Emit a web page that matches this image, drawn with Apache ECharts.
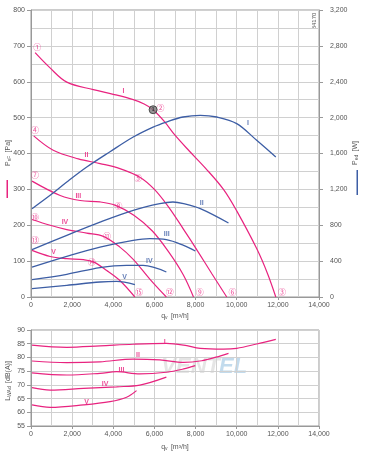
<!DOCTYPE html>
<html><head><meta charset="utf-8">
<script src="https://cdn.jsdelivr.net/npm/echarts@6/dist/echarts.min.js"></script>
<style>html,body{margin:0;padding:0;background:#fff}#c{width:368px;height:454px}</style>
</head><body><div id="c"></div>
<script>
// ---- Data (q in m³/h, pressure in Pa, power in W, sound in dB(A)) ----
const pressureI   = [[200,681],[900,640],[1740,599],[3030,578],[4000,565],[4970,550],[5500,538],[5935,522],[6500,488],[7000,451],[7660,409],[8500,358],[9356,300],[10000,240],[10970,135],[11500,65],[11900,0]];
const pressureII  = [[130,449],[1080,409],[2300,385],[3355,372],[4320,358],[5290,334],[6000,300],[6700,250],[7400,190],[8100,128],[8800,64],[9515,0]];
const pressureIII = [[50,323],[1420,283],[2390,269],[3355,265],[4080,256],[5000,228],[5900,184],[6700,125],[7400,62],[7900,0]];
const pressureIV  = [[50,216],[930,200],[1740,188],[2710,178],[3515,169],[4320,139],[4970,105],[5775,50],[6580,0]];
const pressureV   = [[50,130],[930,113],[1740,107],[2550,104],[3030,98],[3680,74],[4320,46],[5050,0]];

const powerI   = [[50,985],[930,1134],[1740,1282],[2710,1449],[3840,1620],[4970,1784],[5935,1895],[6580,1951],[7390,2007],[8230,2026],[9030,2007],[10000,1933],[10970,1747],[11900,1561]];
const powerII  = [[50,528],[1740,688],[3355,836],[4970,967],[6260,1041],[6900,1059],[7420,1041],[8230,985],[9600,825]];
const powerIII = [[50,334],[1740,454],[3355,557],[4970,632],[5775,651],[6580,640],[7420,576],[7985,513]];
const powerIV  = [[50,194],[1740,253],[3355,328],[4645,353],[5450,353],[6580,279]];
const powerV   = [[50,94],[1740,130],[3355,167],[4160,174],[5050,138]];

const soundI   = [[50,84.5],[1740,83.7],[3355,84.2],[4970,84.8],[6580,85.1],[7420,84.5],[8230,83.3],[9356,83.0],[10000,83.3],[10970,84.9],[11900,86.6]];
const soundII  = [[50,78.7],[1740,78.1],[3355,78.4],[4970,79.4],[6260,79.1],[7420,78.2],[8300,78.8],[9000,80.1],[9600,81.5]];
const soundIII = [[50,74.4],[1740,73.6],[3355,74.2],[4160,74.8],[5290,74.0],[6580,74.6],[7420,75.8],[7985,77.0]];
const soundIV  = [[50,69.0],[930,68.1],[2550,68.7],[4160,69.3],[5290,69.9],[6580,72.8]];
const soundV   = [[50,62.7],[930,61.8],[2550,62.7],[3840,63.9],[4645,65.5],[5130,67.9]];

// label anchors [q, value, text]
const pressureLabels = [[4500,575,'I'],[2700,395,'II'],[2300,280,'III'],[1650,208,'IV'],[1100,125,'V']];
const powerLabels = [[10550,1935,'I'],[8300,1050,'II'],[6600,706,'III'],[5750,400,'IV'],[4550,222,'V']];
const soundLabels = [[6500,85.7,'I'],[5200,80.7,'II'],[4400,75.5,'III'],[3600,70.2,'IV'],[2700,63.8,'V']];
const pointMarks = [[300,698,'①'],[6300,527,'②'],[12200,14,'③'],[200,466,'④'],[5200,333,'⑤'],[9800,14,'⑥'],[200,339,'⑦'],[4250,253,'⑧'],[8200,14,'⑨'],[200,224,'⑩'],[3700,170,'⑪'],[6750,14,'⑫'],[200,160,'⑬'],[2950,99,'⑭'],[5250,14,'⑮']];
const operatingPoint = [[5935,522]];

const PINK = '#e8237f', BLUE = '#3d5ea5', GRID = '#d0d0d0', TXT = '#555';
const FONT = 'Liberation Sans';

const chart = echarts.init(document.getElementById('c'), null, {renderer:'canvas'});
const fmt = v => v.toLocaleString('en-US');

function xAxis(gridIndex){
  return {type:'value', gridIndex, min:0, max:14000, interval:2000,
    axisLine:{show:true, lineStyle:{color:'#999', width:1}},
    axisTick:{show:true, length:3, lineStyle:{color:'#999'}},
    axisLabel:{fontSize:7, color:TXT, fontFamily:FONT, margin:5, formatter:fmt},
    splitLine:{show:true, lineStyle:{color:GRID, width:1}},
    minorTick:{show:false, splitNumber:2},
    minorSplitLine:{show:true, lineStyle:{color:GRID, width:1}}};
}
function line(data, color, xi, yi, w){
  return {type:'line', data, xAxisIndex:xi, yAxisIndex:yi, smooth:0.35, symbol:'none',
    lineStyle:{color, width:w||1.2}, z:3, silent:true};
}
function labels(data, color, xi, yi){
  return {type:'scatter', data, xAxisIndex:xi, yAxisIndex:yi, symbolSize:0, z:5, silent:true,
    label:{show:true, position:'inside', formatter:p=>p.data[2], color, fontSize:7, fontFamily:FONT, fontWeight:'bold'}};
}
const sub = (main, s, tail) => ({text:'{a|'+main+'}{s|'+s+'} {a|'+tail+'}', align:'center', verticalAlign:'middle',
  rich:{a:{fontSize:7, fill:TXT, fontFamily:FONT}, s:{fontSize:5, fill:TXT, fontFamily:FONT, padding:[4,0,0,0]}}});

const series = [];
[pressureI,pressureII,pressureIII,pressureIV,pressureV].forEach(d=>series.push(line(d,PINK,0,0,1.2)));
[powerI,powerII,powerIII,powerIV,powerV].forEach(d=>series.push(line(d,BLUE,0,1,1.3)));
[soundI,soundII,soundIII,soundIV,soundV].forEach(d=>series.push(line(d,PINK,1,2,1.2)));
series.push(labels(pressureLabels,PINK,0,0));
series.push(labels(powerLabels,BLUE,0,1));
series.push(labels(soundLabels,PINK,1,2));
series.push({type:'scatter', data:pointMarks, xAxisIndex:0, yAxisIndex:0, symbolSize:0, z:6, silent:true,
  label:{show:true, position:'inside', formatter:p=>p.data[2], color:PINK, fontSize:8, fontFamily:'Noto Sans CJK SC'}});
series.push({type:'scatter', data:operatingPoint, xAxisIndex:0, yAxisIndex:0, symbol:'circle', symbolSize:8, z:7, silent:true,
  itemStyle:{color:'#7a7a7a', borderColor:'#333', borderWidth:1},
  label:{show:true, position:'inside', formatter:'1', color:'#222', fontSize:5, fontFamily:FONT, fontWeight:'bold'}});

const option = {
  backgroundColor:'#fff',
  animation:false,
  grid:[
    {left:31, right:49, top:10, height:287, show:true, borderColor:'#999', borderWidth:1},
    {left:31, right:49, top:330, height:96, show:true, borderColor:'#999', borderWidth:1}
  ],
  xAxis:[xAxis(0), xAxis(1)],
  yAxis:[
    {type:'value', gridIndex:0, min:0, max:800, interval:100,
      axisLine:{show:true, lineStyle:{color:'#999'}}, axisTick:{show:true, length:4, lineStyle:{color:'#999'}},
      axisLabel:{fontSize:7, color:TXT, fontFamily:FONT, margin:6},
      splitLine:{show:true, lineStyle:{color:GRID}},
      minorTick:{show:false, splitNumber:2}, minorSplitLine:{show:true, lineStyle:{color:GRID}}},
    {type:'value', gridIndex:0, position:'right', min:0, max:3200, interval:400,
      axisLine:{show:true, lineStyle:{color:'#999'}}, axisTick:{show:true, length:4, lineStyle:{color:'#999'}},
      axisLabel:{fontSize:7, color:TXT, fontFamily:FONT, margin:11, formatter:fmt},
      splitLine:{show:false}},
    {type:'value', gridIndex:1, min:55, max:90, interval:5,
      axisLine:{show:true, lineStyle:{color:'#999'}}, axisTick:{show:true, length:4, lineStyle:{color:'#999'}},
      axisLabel:{fontSize:7, color:TXT, fontFamily:FONT, margin:6},
      splitLine:{show:true, lineStyle:{color:GRID}}}
  ],
  series,
  graphic:[
    {type:'text', x:220, y:356, z:0, silent:true,
      style:{text:'VENT', align:'right', font:'italic bold 22px "Liberation Sans"', fill:'rgba(170,170,170,0.3)'}},
    {type:'text', x:219, y:356, z:0, silent:true,
      style:{text:'EL', align:'left', font:'italic bold 22px "Liberation Sans"', fill:'rgba(120,175,215,0.45)'}},
    {type:'text', x:8, y:153, rotation:Math.PI/2, silent:true, style:sub('P','sF','[Pa]')},
    {type:'rect', shape:{x:6.5, y:180, width:1.5, height:18}, style:{fill:PINK}, silent:true},
    {type:'text', x:355, y:153, rotation:Math.PI/2, silent:true, style:sub('P','ed','[W]')},
    {type:'rect', shape:{x:356.5, y:170, width:1.5, height:25}, style:{fill:BLUE}, silent:true},
    {type:'text', x:175, y:316, silent:true, style:sub('q','v','[m³/h]')},
    {type:'text', x:175, y:447, silent:true, style:sub('q','v','[m³/h]')},
    {type:'text', x:8, y:381, rotation:Math.PI/2, silent:true, style:sub('L','WAd','[dB(A)]')},
    {type:'text', x:314, y:21, rotation:Math.PI/2, silent:true,
      style:{text:'84170', align:'center', verticalAlign:'middle', fontSize:6, fill:TXT, fontFamily:FONT}}
  ]
};
chart.setOption(option);
</script></body></html>
